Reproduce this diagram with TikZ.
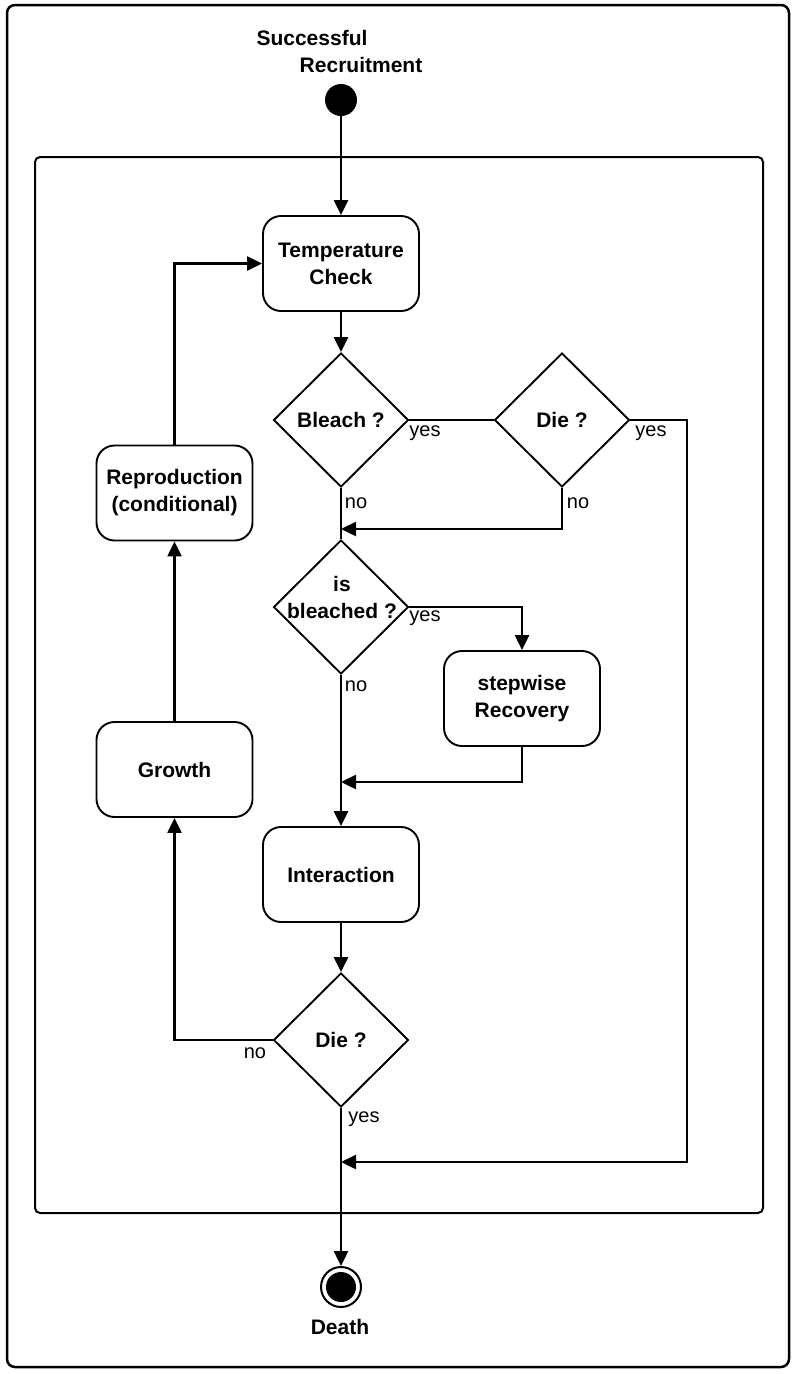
\documentclass[tikz,border=0pt]{standalone}
\usepackage{fontspec}
\setmainfont{Liberation Sans}
\usetikzlibrary{arrows.meta,shapes.geometric}
\begin{document}
\begin{tikzpicture}[x=1pt,y=-1pt,
  lbl/.style={font=\fontsize{21}{27}\selectfont\bfseries, align=center, inner sep=0},
  small/.style={font=\fontsize{20}{24}\selectfont, inner sep=0},
  act/.style={draw, rectangle, rounded corners=18pt, line width=1.9pt, minimum width=156pt, minimum height=95pt, align=center, inner sep=0, font=\fontsize{21}{27}\selectfont\bfseries},
  dia/.style={draw, diamond, line width=1.9pt, minimum width=135pt, minimum height=134pt, inner sep=0},
  arr/.style={-{Triangle[length=15pt,width=14pt]}, line width=2.4pt},
  ln/.style={line width=2.4pt}]
\useasboundingbox (0,0) rectangle (795,1374);
\draw[line width=2.5pt, rounded corners=8pt] (7,5) rectangle (789,1367);
\draw[line width=2pt, rounded corners=5pt] (35,157) rectangle (763,1213);

\node[lbl] (t1) at (312,38) {Successful};
\node[lbl] (t2) at (361,65) {Recruitment};
\node[circle, fill, minimum size=32pt, inner sep=0] (start) at (341,100) {};

\node[act] (tc) at (341,263.5) {Temperature\\Check};
\node[dia] (b1) at (341,420) {};
\node[lbl] (b1t) at (b1) {Bleach ?};
\node[dia] (d1) at (562,420) {};
\node[lbl] (d1t) at (d1) {Die ?};
\coordinate (j1) at (341,529);
\node[dia] (isb) at (341,607) {};
\node[lbl] (isbt) at (342,597) {is\\bleached ?};
\node[act] (sr) at (522,698.5) {stepwise\\Recovery};
\coordinate (j2) at (341,782);
\node[act] (it) at (341,874.5) {Interaction};
\node[dia] (d2) at (341,1040) {};
\node[lbl] (d2t) at (d2) {Die ?};
\coordinate (j3) at (341,1162);
\coordinate (rc) at (687,1162);
\node[act] (gr) at (174.5,769.5) {Growth};
\node[act] (rp) at (174.5,493) {Reproduction\\(conditional)};
\node[circle, draw, line width=2pt, fill=white, minimum size=40pt, inner sep=0] (end) at (341,1287) {};
\fill (end.center) circle (15pt);
\node[lbl] (death) at (340,1327) {Death};

\node[small] (y1) at (425,433) {yes};
\node[small] (y2) at (651,433) {yes};
\node[small] (n1) at (356,503) {no};
\node[small] (n2) at (578,503) {no};
\node[small] (y3) at (425,618) {yes};
\node[small] (n3) at (356,686) {no};
\node[small] (n4) at (255,1053) {no};
\node[small] (y4) at (364,1119) {yes};

\draw[arr] (start) -- (tc.north);
\draw[arr] (tc.south) -- (b1.north);
\draw[ln] (b1.east) -- (d1.west);
\draw[arr] (d1.east) -| (rc) -- (j3);
\draw[ln] (b1.south) -- (isb.north);
\draw[arr] (d1.south) |- (j1);
\draw[arr] (isb.east) -| (sr.north);
\draw[arr] (isb.south) -- (it.north);
\draw[arr] (sr.south) |- (j2);
\draw[arr] (it.south) -- (d2.north);
\draw[arr] (d2.west) -| (gr.south);
\draw[arr] (gr.north) -- (rp.south);
\draw[arr] (rp.north) |- (tc.west);
\draw[arr] (d2.south) -- (end.north);
\end{tikzpicture}
\end{document}
